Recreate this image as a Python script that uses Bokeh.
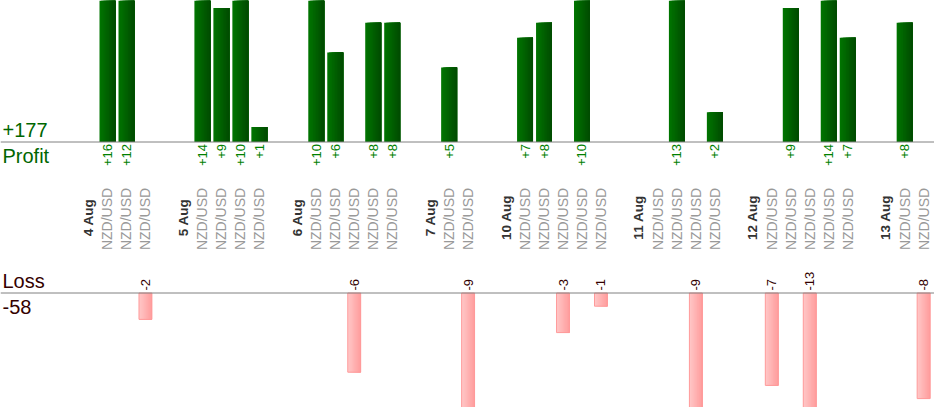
import math
from bokeh.plotting import figure
from bokeh.models import Range1d, Span
from bokeh.core.properties import value
from bokeh.embed import file_html
from bokeh.resources import INLINE

# ---- data ----
labels = ["4 Aug", "NZD/USD", "NZD/USD", "NZD/USD", "",
          "5 Aug", "NZD/USD", "NZD/USD", "NZD/USD", "NZD/USD", "",
          "6 Aug", "NZD/USD", "NZD/USD", "NZD/USD", "NZD/USD", "NZD/USD", "",
          "7 Aug", "NZD/USD", "NZD/USD", "",
          "10 Aug", "NZD/USD", "NZD/USD", "NZD/USD", "NZD/USD", "NZD/USD", "",
          "11 Aug", "NZD/USD", "NZD/USD", "NZD/USD", "NZD/USD", "",
          "12 Aug", "NZD/USD", "NZD/USD", "NZD/USD", "NZD/USD", "NZD/USD", "",
          "13 Aug", "NZD/USD", "NZD/USD"]
profit = [0, 16, 12, 0, 0,
          0, 14, 9, 10, 1, 0,
          0, 10, 6, 0, 8, 8, 0,
          0, 5, 0, 0,
          0, 7, 8, 0, 10, 0, 0,
          0, 0, 13, 0, 2, 0,
          0, 0, 9, 0, 14, 7, 0,
          0, 8, 0]
loss = [0, 0, 0, 2, 0,
        0, 0, 0, 0, 0, 0,
        0, 0, 0, 6, 0, 0, 0,
        0, 0, 9, 0,
        0, 0, 0, 3, 0, 1, 0,
        0, 0, 0, 9, 0, 0,
        0, 7, 0, 13, 0, 0, 0,
        0, 0, 8]
date_labels = {"4 Aug", "5 Aug", "6 Aug", "7 Aug", "10 Aug", "11 Aug", "12 Aug", "13 Aug"}

# ---- layout constants (pixels) ----
W, H = 934, 407
SLOT = 18.98
X0 = 88.0
P_BASE, P_SCALE = 141.5, 14.9
L_BASE, L_SCALE = 292.5, 13.2

p = figure(width=W, height=H, output_backend="svg", toolbar_location=None,
           x_range=Range1d(-X0 / SLOT, (W - X0) / SLOT),
           y_range=Range1d(-(H - P_BASE) / P_SCALE, P_BASE / P_SCALE),
           min_border=0, outline_line_color=None)
p.extra_y_ranges = {"loss": Range1d(-(H - L_BASE) / L_SCALE, L_BASE / L_SCALE),
                    "px": Range1d(H, 0)}
p.extra_x_ranges = {"px": Range1d(0, W)}
p.xaxis.visible = False
p.yaxis.visible = False
p.grid.visible = False
p.background_fill_color = "white"
p.border_fill_color = "white"

def lerp(c1, c2, t):
    return "#%02x%02x%02x" % tuple(int(round(a + (b - a) * t)) for a, b in zip(c1, c2))

N = 10

def gradient_bars(idx, bottoms, tops, width, c_left, c_right, **kw):
    # each strip runs from its own left edge to the bar's right edge, drawn in order
    for k in range(N):
        col = lerp(c_left, c_right, (k + 0.5) / N)
        frac = k / N
        wk = width * (1 - frac)
        xs = [i - width / 2 + width * frac + wk / 2 for i in idx]
        p.vbar(x=xs, top=tops, bottom=bottoms, width=wk,
               fill_color=col, line_color=None, **kw)

# profit bars
pw = 0.84
pidx = [i for i, v in enumerate(profit) if v > 0]
gradient_bars(pidx, [0] * len(pidx), [profit[i] for i in pidx], pw,
              (0, 0x76, 0), (0, 0x4a, 0))

# loss bars
lw = 0.68
lidx = [i for i, v in enumerate(loss) if v > 0]
gradient_bars(lidx, [-loss[i] for i in lidx], [0] * len(lidx), lw,
              (0xff, 0xc8, 0xc8), (0xff, 0x9c, 0x9c), y_range_name="loss")
p.vbar(x=lidx, top=0, bottom=[-loss[i] for i in lidx], width=lw,
       fill_color=None, line_color="#ff9a9a", line_width=1, y_range_name="loss")

# baselines
p.add_layout(Span(location=0, dimension="width", line_color="#808080", line_width=1))
p.add_layout(Span(location=0, dimension="width", line_color="#808080", line_width=1,
                  y_range_name="loss"))

# value labels
p.text(x=pidx, y=[143.5] * len(pidx), y_range_name="px",
       text=["+%d" % profit[i] for i in pidx], angle=math.pi / 2,
       text_align="right", text_baseline="middle", text_font=value("Liberation Sans"),
       text_font_size="13px", text_color="#008000")
p.text(x=lidx, y=[290] * len(lidx), y_range_name="px",
       text=["-%d" % loss[i] for i in lidx], angle=math.pi / 2,
       text_align="left", text_baseline="middle", text_font=value("Liberation Sans"),
       text_font_size="13px", text_color="#330000")

# category labels
didx = [i for i, s in enumerate(labels) if s in date_labels]
cidx = [i for i, s in enumerate(labels) if s and s not in date_labels]
p.text(x=cidx, y=[218.5] * len(cidx), y_range_name="px",
       text=[labels[i] for i in cidx], angle=math.pi / 2,
       text_align="center", text_baseline="middle", text_font=value("Liberation Sans"),
       text_font_size="14px", text_color="#999999")
p.text(x=didx, y=[217] * len(didx), y_range_name="px",
       text=[labels[i] for i in didx], angle=math.pi / 2,
       text_align="center", text_baseline="middle", text_font=value("Liberation Sans"),
       text_font_size="13.5px", text_font_style="bold", text_color="#333333")

# side labels
total_p = sum(profit)
total_l = sum(loss)
p.text(x=[2, 2], y=[129, 155], x_range_name="px", y_range_name="px",
       text=["+%d" % total_p, "Profit"], text_align="left", text_baseline="alphabetic",
       text_font=value("Liberation Sans"), text_font_size="20px", text_color="#006600")
p.text(x=[2, 2], y=[280, 306], x_range_name="px", y_range_name="px",
       text=["Loss", "-%d" % total_l], text_align="left", text_baseline="alphabetic",
       text_font=value("Liberation Sans"), text_font_size="20px", text_color="#330000")

open("out.html", "w").write(file_html(p, INLINE))
